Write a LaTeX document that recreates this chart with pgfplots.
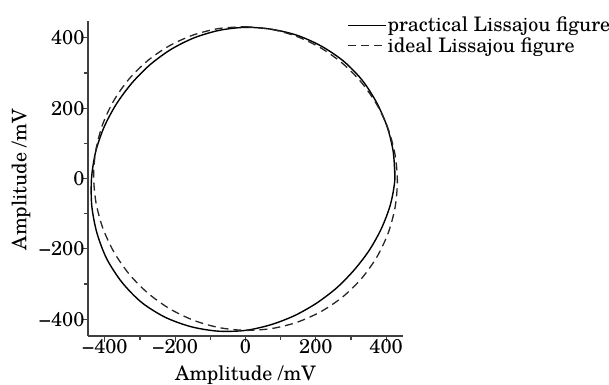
\documentclass[border=0pt]{standalone}
\usepackage{fontspec}
\setmainfont{TeX Gyre Schola}
\usepackage{pgfplots}
\pgfplotsset{compat=1.18}
\begin{document}
\begin{tikzpicture}
\begin{axis}[
  scale only axis, width=315pt, height=315pt,
  xmin=-448, xmax=448, ymin=-448, ymax=448,
  axis x line=bottom, axis y line=left,
  axis line style={-, draw=black!75, line width=1.3pt},
  tick align=inside,
  major tick length=-6pt, minor tick length=-3.5pt,
  minor tick num=1,
  tick style={draw=black!75, line width=1.1pt},
  xtick={-400,-200,0,200,400},
  xticklabels={−400,−200,0,200,400},
  ytick={-400,-200,0,200,400},
  yticklabels={−400,−200,0,200,400},
  tick label style={font=\fontsize{20}{20}\selectfont},
  xlabel={Amplitude /mV}, ylabel={Amplitude /mV},
  every axis x label/.style={at={(axis description cs:0.5,-0.124)}, anchor=center, font=\fontsize{20}{20}\selectfont},
  every axis y label/.style={at={(axis description cs:-0.213,0.496)}, rotate=90, anchor=center, font=\fontsize{20}{20}\selectfont},
  legend style={draw=none, fill=none, at={(0.822,1.016)}, anchor=north west,
    font=\fontsize{20}{22}\selectfont, inner sep=0pt, row sep=2pt,
    nodes={inner sep=1pt}},
  legend cell align=left,
  legend image code/.code={\draw[#1] (0pt,0pt) -- (38pt,0pt);},
]
\addplot[black, line width=1.4pt, smooth] coordinates {
(425,0) (420.5,74.1) (403.1,146.7) (373.2,215.5) (332.4,279.0) (279.6,333.2)
(217.0,375.8) (148.1,406.9) (74.8,424.4) (0,430) (-74.3,421.5) (-145.7,400.3)
(-212.0,367.2) (-271.6,323.6) (-323.3,271.3) (-367.2,212.0) (-402.2,146.4) (-426.4,75.2)
(-438,0) (-437.3,-77.1) (-422.9,-153.9) (-394.9,-228.0) (-351.6,-295.0) (-295.7,-352.4)
(-228.0,-394.9) (-153.6,-421.9) (-76.6,-434.3) (0,-432) (73.3,-415.6) (141.6,-389.0)
(204.0,-353.3) (260.3,-310.2) (309.5,-259.7) (352.5,-203.5) (387.2,-140.9) (412.6,-72.8)
(425,0) (420.5,74.1)
};
\addlegendentry{practical Lissajou figure}
\addplot[black!85, line width=1.3pt, dash pattern=on 8pt off 5pt, smooth] coordinates {
(0,431.9) (75.0,424.1) (147.7,403.3) (216.0,370.3) (277.7,326.0) (330.9,271.9)
(374.1,209.4) (406.0,140.6) (425.4,67.6) (432,-7.5) (425.4,-82.4) (406.0,-154.8)
(374.1,-222.5) (330.9,-283.4) (277.7,-335.7) (216.0,-377.8) (147.7,-408.5) (75.0,-426.7)
(0,-431.9) (-75.0,-424.1) (-147.7,-403.3) (-216.0,-370.3) (-277.7,-326.0) (-330.9,-271.9)
(-374.1,-209.4) (-406.0,-140.6) (-425.4,-67.6) (-432,7.5) (-425.4,82.4) (-406.0,154.8)
(-374.1,222.5) (-330.9,283.4) (-277.7,335.7) (-216.0,377.8) (-147.7,408.5) (-75.0,426.7)
(0,431.9)
};
\addlegendentry{ideal Lissajou figure}
\end{axis}
\pgfresetboundingbox
\path (-88pt,-48pt) rectangle (521pt,336pt);
\end{tikzpicture}
\end{document}
